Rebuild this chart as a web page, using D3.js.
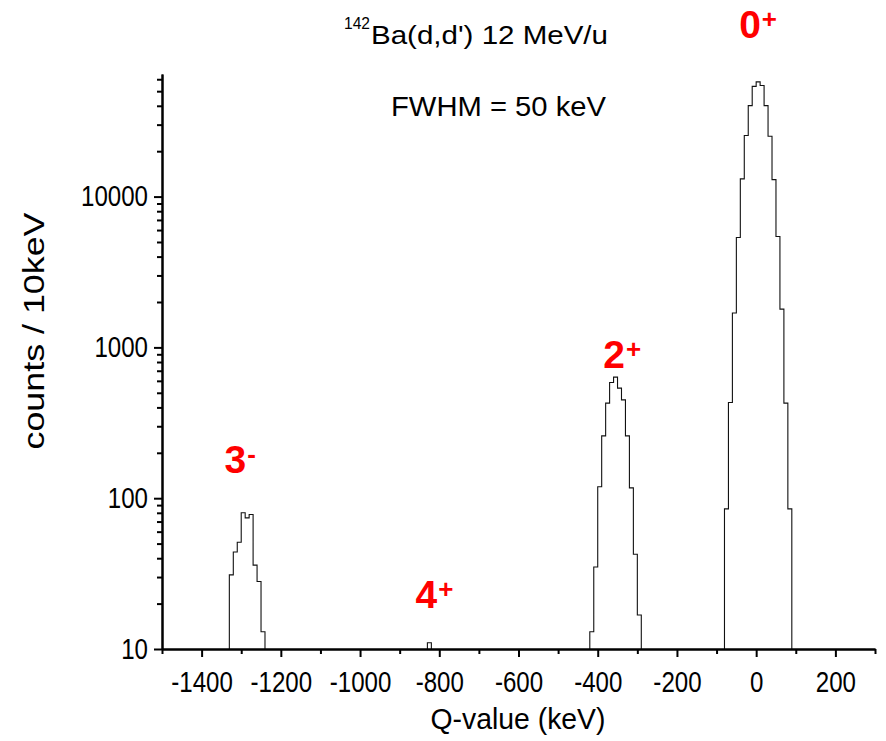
<!DOCTYPE html>
<head>
  <meta charset="UTF-8">
  <script src="https://d3js.org/d3.v7.min.js"></script>
  <title>142Ba(d,d') Q-value spectrum</title>
  <style>
    body { margin: 0; background: #fff; }
    text { font-family: "Liberation Sans", Arial, sans-serif; }
  </style>
</head>
<body>
  <svg id="spectrum"></svg>
  <script>

    var width = 886;
    var height = 741;

    // histogram bins, 10 keV wide: first bin's left edge and counts
    var gsStart = -80;
    var gsCounts = [85, 431, 1690, 5360, 13100, 25400, 40100, 53800, 57600, 54500, 40100, 25100, 12950, 5440, 1795, 427, 85];

    var twoStart = -420;
    var twoCounts = [13, 35, 119, 259, 427, 585, 635, 537, 449, 259, 117, 42.5, 16.8];

    var threeStart = -1330;
    var threeCounts = [31, 44, 51, 80, 74, 78, 36, 28, 13];

    var fourStart = -830;
    var fourCounts = [11];

    var xMajor = [-1400, -1200, -1000, -800, -600, -400, -200, 0, 200];
    var xMinor = [-1500, -1300, -1100, -900, -700, -500, -300, -100, 100, 300];
    var yMajor = [10, 100, 1000, 10000];
    var yMinor = [20, 30, 40, 50, 60, 70, 80, 90,
                  200, 300, 400, 500, 600, 700, 800, 900,
                  2000, 3000, 4000, 5000, 6000, 7000, 8000, 9000,
                  20000, 30000, 40000, 50000, 60000];

    // state labels, anchored at the left of the digit (q in keV, n in counts)
    var peakLabels = [
      {q: -43, n: 113000, base: "0", sup: "+"},
      {q: -386, n: 733, base: "2", sup: "+"},
      {q: -1342, n: 147, base: "3", sup: "-"},
      {q: -860, n: 18.7, base: "4", sup: "+"}
    ];

    var binWidth = 10;
    var floor = 10;

    var svg = d3.select("#spectrum")
        .attr("width", width)
        .attr("height", height);

    var x = d3.scaleLinear()
        .domain([-1500, 300])
        .range([162, 875]);

    var y = d3.scaleLog()
        .domain([10, 65000])
        .range([649, 74]);

    // squeeze or stretch text sideways so it fills the same width as the original
    function fitWidth(sel, factor) {
        sel.each(function() {
            var w = this.getComputedTextLength();
            d3.select(this)
                .attr("textLength", w * factor)
                .attr("lengthAdjust", "spacingAndGlyphs");
        });
    }
    function fitTo(sel, target) {
        sel.attr("textLength", target).attr("lengthAdjust", "spacingAndGlyphs");
    }

    function peakPoints(start, counts) {
        var pts = [{q: start, n: floor}];
        counts.forEach(function(c, i) {
            pts.push({q: start + i * binWidth, n: Math.max(c, floor)});
        });
        pts.push({q: start + counts.length * binWidth, n: floor});
        return pts;
    }

    var line = d3.line()
        .x(function(d) { return x(d.q); })
        .y(function(d) { return y(d.n); })
        .curve(d3.curveStepAfter);

    var peaks = [
        peakPoints(threeStart, threeCounts),
        peakPoints(fourStart, fourCounts),
        peakPoints(twoStart, twoCounts),
        peakPoints(gsStart, gsCounts)
    ];

    svg.selectAll("path.hist")
        .data(peaks)
        .enter().append("path")
        .attr("class", "hist")
        .attr("d", line)
        .attr("fill", "none")
        .attr("stroke", "#111")
        .attr("stroke-width", 1.1);

    // axes
    function styleAxis(g) {
        g.selectAll("path, line").attr("stroke", "#000").attr("stroke-width", 2);
        g.selectAll("text")
            .attr("fill", "#000")
            .style("font-size", "29px")
            .style("font-family", "'Liberation Sans', Arial, sans-serif");
    }

    var plain = function(d) { return String(d); };

    svg.append("g")
        .attr("transform", "translate(0,649)")
        .call(d3.axisBottom(x).tickValues(xMinor).tickSize(5).tickFormat("").tickSizeOuter(0))
        .call(styleAxis);

    var xAxis = svg.append("g")
        .attr("transform", "translate(0,649)")
        .call(d3.axisBottom(x).tickValues(xMajor).tickSize(8).tickPadding(14)
            .tickFormat(plain).tickSizeOuter(0))
        .call(styleAxis);
    fitWidth(xAxis.selectAll("text"), 0.83);

    svg.append("g")
        .attr("transform", "translate(162,0)")
        .call(d3.axisLeft(y).tickValues(yMinor).tickSize(5).tickFormat("").tickSizeOuter(0))
        .call(styleAxis);

    var yAxis = svg.append("g")
        .attr("transform", "translate(162,0)")
        .call(d3.axisLeft(y).tickValues(yMajor).tickSize(8).tickPadding(6)
            .tickFormat(plain).tickSizeOuter(0))
        .call(styleAxis);
    fitWidth(yAxis.selectAll("text"), 0.83);

    // axis titles
    svg.append("text")
        .attr("x", 518)
        .attr("y", 729)
        .attr("text-anchor", "middle")
        .style("font-size", "30px")
        .text("Q-value (keV)")
        .call(fitTo, 175);

    svg.append("text")
        .attr("transform", "translate(44,331) rotate(-90)")
        .attr("text-anchor", "middle")
        .style("font-size", "30px")
        .text("counts / 10keV")
        .call(fitTo, 237);

    // title and annotation
    svg.append("text")
        .attr("x", 344)
        .attr("y", 29)
        .style("font-size", "16px")
        .text("142")
        .call(fitTo, 26);

    svg.append("text")
        .attr("x", 371)
        .attr("y", 44)
        .style("font-size", "25px")
        .text("Ba(d,d') 12 MeV/u")
        .call(fitTo, 237);

    svg.append("text")
        .attr("x", 391)
        .attr("y", 116)
        .style("font-size", "27px")
        .text("FWHM = 50 keV")
        .call(fitTo, 215);

    // state labels
    var lab = svg.selectAll("text.state")
        .data(peakLabels)
        .enter().append("text")
        .attr("class", "state")
        .attr("x", function(d) { return x(d.q); })
        .attr("y", function(d) { return y(d.n); })
        .attr("fill", "#ff0000")
        .style("font-weight", "bold")
        .style("font-size", "39px");
    lab.append("tspan").text(function(d) { return d.base; });
    lab.append("tspan")
        .attr("dy", -10)
        .attr("dx", 1)
        .style("font-size", "26px")
        .text(function(d) { return d.sup; });

  </script>
</body>
</html>
